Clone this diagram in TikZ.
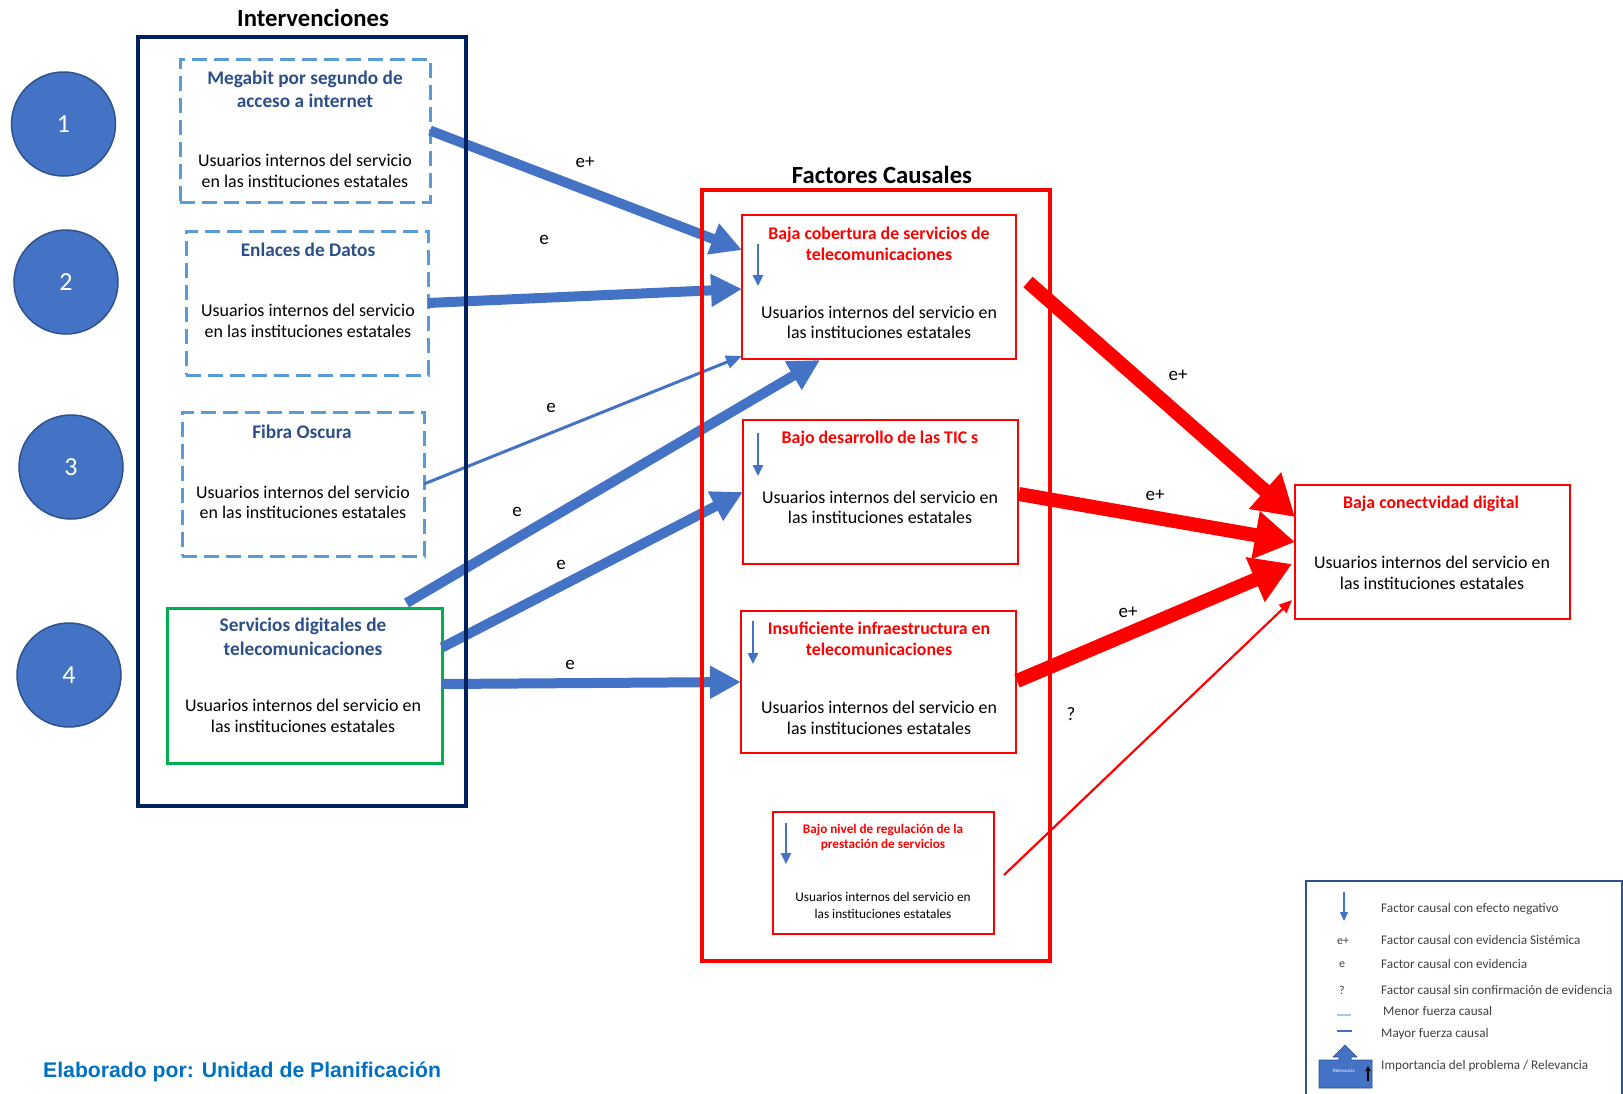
\documentclass[tikz,border=0pt]{standalone}
\usepackage{fontspec}
\setmainfont{Carlito}
\newfontfamily\arialf{Liberation Sans}
\usetikzlibrary{arrows.meta,calc}
\definecolor{cblue}{HTML}{4472C4}
\definecolor{cborder}{HTML}{2F528F}
\definecolor{dblue}{HTML}{5B9BD5}
\definecolor{navy}{HTML}{002060}
\definecolor{tblue}{HTML}{2B4F86}
\definecolor{cgreen}{HTML}{00B050}
\definecolor{cred}{HTML}{FF0000}
\definecolor{elab}{HTML}{0070C0}
\definecolor{lgray}{HTML}{404040}
\definecolor{lightb}{HTML}{B4C7E7}
\tikzset{
  box/.style={draw, rectangle, inner sep=0pt, outer sep=0pt},
  dashbox/.style={box, draw=dblue, line width=3pt, dash pattern=on 15pt off 7pt},
  fbox/.style={box, draw=cred, line width=1.8pt},
  circ/.style={circle, fill=cblue, draw=cborder, line width=1.5pt, minimum size=104pt, inner sep=0pt, text=white, font=\fontsize{26}{26}\selectfont},
  ttl/.style={font=\fontsize{19.3}{23.5}\selectfont\bfseries, text=tblue, align=center, inner sep=0pt},
  rttl/.style={font=\fontsize{17.8}{21}\selectfont\bfseries, text=cred, align=center, inner sep=0pt},
  body/.style={font=\fontsize{17.9}{20.5}\selectfont, align=center, inner sep=0pt},
  head/.style={font=\fontsize{24.7}{26}\selectfont\bfseries, inner sep=0pt},
  lbl/.style={font=\fontsize{19}{20}\selectfont, inner sep=0pt},
  barr/.style={draw=cblue, line width=10pt, line cap=butt, -{Triangle[length=31pt,width=31pt]}},
  tbarr/.style={draw=cblue, line width=3pt, line cap=butt, -{Triangle[length=16pt,width=13pt]}},
  rarr/.style={draw=cred, line width=14pt, line cap=butt, -{Triangle[length=40pt,width=46pt]}},
  trarr/.style={draw=cred, line width=2.2pt, line cap=butt, -{Triangle[length=13pt,width=11pt]}},
  negarr/.style={draw=cblue, line width=2.5pt, -{Triangle[length=11pt,width=10pt]}},
  legt/.style={font=\fontsize{13.2}{15}\selectfont, text=lgray, anchor=west, inner sep=0pt},
}
\begin{document}
\begin{tikzpicture}[x=1pt,y=-1pt]
\useasboundingbox (0,0) rectangle (1623,1093);
% circles
\node[circ] (c1) at (63.5,124) {1};
\node[circ] (c2) at (66,282) {2};
\node[circ] (c3) at (71,467) {3};
\node[circ] (c4) at (69,675) {4};
% headings
\node[head] (hint) at (313,18) {Intervenciones};
\node[head] (hfac) at (882,175) {Factores Causales};
% intervention boxes
\node[dashbox, minimum width=250pt, minimum height=143pt] (b1) at (305,130.5) {};
\node[ttl] (b1t) at (305,89.5) {Megabit por segundo de\\acceso a internet};
\node[body] (b1b) at (305,171) {Usuarios internos del servicio\\en las instituciones estatales};
\node[dashbox, minimum width=242pt, minimum height=144pt] (b2) at (307,303) {};
\node[ttl] (b2t) at (308,250) {Enlaces de Datos};
\node[body] (b2b) at (308,321) {Usuarios internos del servicio\\en las instituciones estatales};
\node[dashbox, minimum width=242pt, minimum height=144pt] (b3) at (303,484) {};
\node[ttl] (b3t) at (302,432) {Fibra Oscura};
\node[body] (b3b) at (303,502.5) {Usuarios internos del servicio\\en las instituciones estatales};
\node[box, draw=cgreen, line width=3pt, minimum width=275pt, minimum height=155pt] (b4) at (304.5,685.5) {};
\node[ttl] (b4t) at (303,637) {Servicios digitales de\\telecomunicaciones};
\node[body] (b4b) at (303,716) {Usuarios internos del servicio en\\las instituciones estatales};
% factor boxes
\node[fbox, minimum width=274pt, minimum height=144pt] (f1) at (879,287) {};
\node[rttl] (f1t) at (879,243.5) {Baja cobertura de servicios de\\telecomunicaciones};
\node[body] (f1b) at (879,322.5) {Usuarios internos del servicio en\\las instituciones estatales};
\node[fbox, minimum width=275pt, minimum height=144pt] (f2) at (880.5,492) {};
\node[rttl] (f2t) at (880,439) {Bajo desarrollo de las TIC s};
\node[body] (f2b) at (880,507.5) {Usuarios internos del servicio en\\las instituciones estatales};
\node[fbox, minimum width=275pt, minimum height=142pt] (f3) at (878.5,682) {};
\node[rttl] (f3t) at (879,638.5) {Insuficiente infraestructura en\\telecomunicaciones};
\node[body] (f3b) at (879,718) {Usuarios internos del servicio en\\las instituciones estatales};
\node[fbox, minimum width=221pt, minimum height=122pt] (f4) at (883.5,873) {};
\node[font=\fontsize{13.2}{14.8}\selectfont\bfseries, text=cred, align=center, inner sep=0pt] (f4t) at (883,837.5) {Bajo nivel de regulación de la\\prestación de servicios};
\node[font=\fontsize{13.3}{16.5}\selectfont, align=center, inner sep=0pt] (f4b) at (883,905.5) {Usuarios internos del servicio en\\las instituciones estatales};
% result box
\node[fbox, minimum width=275pt, minimum height=134pt] (res) at (1432.5,552) {};
\node[rttl] (rest) at (1431,504) {Baja conectvidad digital};
\node[body] (resb) at (1432,573) {Usuarios internos del servicio en\\las instituciones estatales};
% negative-effect marks inside factor boxes
\coordinate (n1a) at ([xshift=16pt,yshift=-29pt]f1.north west);
\coordinate (n1b) at ([xshift=16pt,yshift=-71pt]f1.north west);
\draw[negarr] (n1a) -- (n1b);
\coordinate (n2a) at ([xshift=15pt,yshift=-13pt]f2.north west);
\coordinate (n2b) at ([xshift=15pt,yshift=-56pt]f2.north west);
\draw[negarr] (n2a) -- (n2b);
\coordinate (n3a) at ([xshift=12pt,yshift=-10pt]f3.north west);
\coordinate (n3b) at ([xshift=12pt,yshift=-53pt]f3.north west);
\draw[negarr] (n3a) -- (n3b);
\coordinate (n4a) at ([xshift=13pt,yshift=-11pt]f4.north west);
\coordinate (n4b) at ([xshift=13pt,yshift=-52pt]f4.north west);
\draw[negarr] (n4a) -- (n4b);
% blue arrows
\draw[barr] (b1.east) -- ([yshift=37pt]f1.west);
\draw[barr] (b2.east) -- ([yshift=-2pt]f1.west);
\draw[tbarr] (b3.east) -- ([yshift=3pt]f1.south west);
\draw[barr] ([xshift=102pt,yshift=5pt]b4.north) -- ([xshift=-59pt,yshift=-1pt]f1.south);
\draw[barr] ([yshift=38pt]b4.east) -- (f2.west);
\draw[barr] ([yshift=1.5pt]b4.east) -- (f3.west);
\node[lbl] (l1) at (585,162) {e+};
\node[lbl] (l2) at (544,240) {e};
\node[lbl] (l3) at (551,408) {e};
\node[lbl] (l4) at (517,512) {e};
\node[lbl] (l5) at (561,565) {e};
\node[lbl] (l6) at (570,665) {e};
% red arrows
\draw[rarr] ([xshift=12pt,yshift=5pt]f1.east) -- ([yshift=35pt]res.west);
\draw[rarr] ([xshift=1pt,yshift=-2pt]f2.east) -- ([yshift=10pt]res.west);
\draw[rarr] ([xshift=1pt,yshift=1pt]f3.east) -- ([xshift=-3pt,yshift=-12pt]res.west);
\draw[trarr] ([xshift=10pt,yshift=-2pt]f4.east) -- ([xshift=-3pt,yshift=-48pt]res.west);
\node[lbl] (l7) at (1178,375) {e+};
\node[lbl] (l8) at (1155,495) {e+};
\node[lbl] (l9) at (1128,612) {e+};
\node[lbl] (l10) at (1071,714) {?};
% frames
\node[box, draw=navy, line width=4pt, minimum width=328pt, minimum height=769pt] (fint) at (302,421.5) {};
\node[box, draw=cred, line width=4.5pt, minimum width=348pt, minimum height=771pt] (ffac) at (876,575.5) {};
% legend
\draw[draw=cborder, line width=1.5pt] (1306,1100) -- (1306,881) -- (1622,881) -- (1622,1100);
\coordinate (lga) at (1344,892);
\coordinate (lgb) at (1344,921);
\draw[draw=cblue, line width=1.2pt, -{Triangle[length=9pt,width=8pt]}] (lga) -- (lgb);
\node[legt] (lt1) at (1381,909) {Factor causal con efecto negativo};
\node[font=\fontsize{12}{13}\selectfont, text=lgray, inner sep=0pt] (ls2) at (1343,941) {e+};
\node[legt] (lt2) at (1381,940) {Factor causal con evidencia Sistémica};
\node[font=\fontsize{12}{13}\selectfont, text=lgray, inner sep=0pt] (ls3) at (1342,965) {e};
\node[legt] (lt3) at (1381,964) {Factor causal con evidencia};
\node[font=\fontsize{12}{13}\selectfont, text=lgray, inner sep=0pt] (ls4) at (1342,990) {?};
\node[legt] (lt4) at (1381,990) {Factor causal sin confirmación de evidencia};
\coordinate (lma) at (1337,1015);
\coordinate (lmb) at (1351,1015);
\draw[draw=lightb, line width=1.3pt] (lma) -- (lmb);
\node[legt] (lt5) at (1383,1011) {Menor fuerza causal};
\coordinate (lMa) at (1337,1031);
\coordinate (lMb) at (1352,1031);
\draw[draw=cblue, line width=1.8pt] (lMa) -- (lMb);
\node[legt] (lt6) at (1381,1034) {Mayor fuerza causal};
\fill[cblue, draw=cborder, line width=0.6pt] (1319,1088) -- (1319,1060) -- (1339,1060) -- (1339,1057) -- (1333,1057) -- (1345,1045) -- (1357,1057) -- (1351,1057) -- (1351,1060) -- (1372,1060) -- (1372,1088) -- cycle;
\node[font=\fontsize{5}{6}\selectfont, text=white, inner sep=0pt] (lrel) at (1344,1071) {Relevancia};
\coordinate (lra) at (1368,1081);
\coordinate (lrb) at (1368,1066);
\draw[draw=black, line width=1.2pt, -{Triangle[length=5pt,width=5pt]}] (lra) -- (lrb);
\node[legt] (lt7) at (1381,1066) {Importancia del problema / Relevancia};
% footer
\node[font=\arialf\fontsize{21.2}{23}\selectfont\bfseries, text=elab, anchor=west, inner sep=0pt] (elab) at (43,1072) {Elaborado por: Unidad de Planificación};
\end{tikzpicture}
\end{document}
